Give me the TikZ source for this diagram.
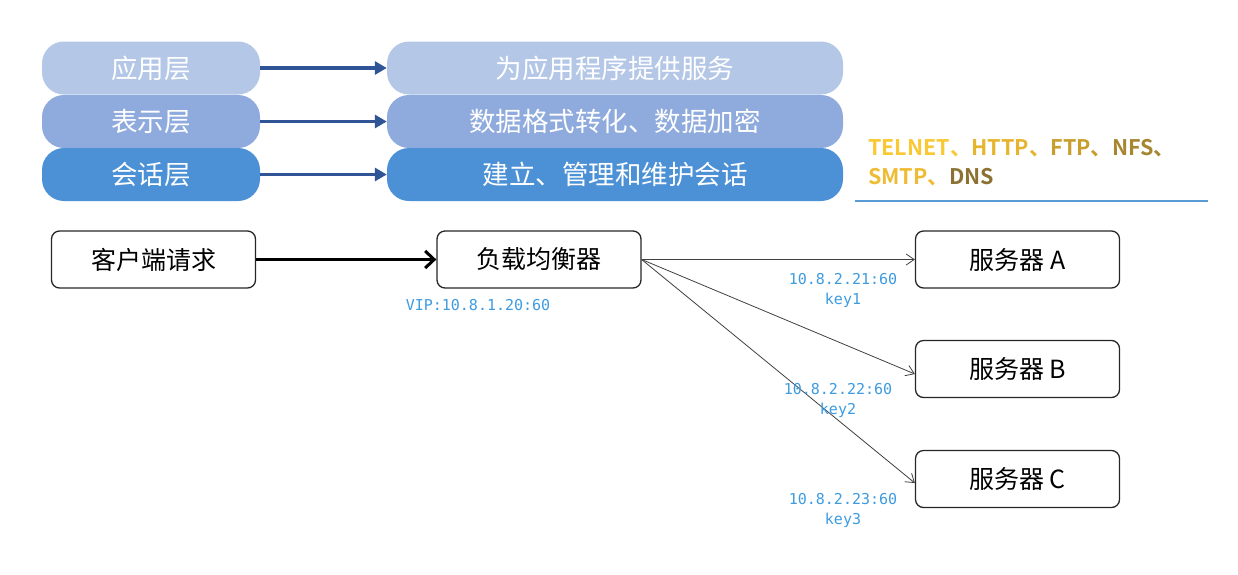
\documentclass[tikz,border=0pt]{standalone}
\usepackage{fontspec}
\setmainfont{Noto Sans CJK SC}
\newfontfamily\cjkb{Noto Sans CJK SC Bold}
\newfontfamily\monof{DejaVu Sans Mono}
\usetikzlibrary{arrows.meta,positioning}
\definecolor{layA}{RGB}{180,199,231}
\definecolor{layB}{RGB}{143,170,220}
\definecolor{layC}{RGB}{76,145,214}
\definecolor{arrblue}{RGB}{47,85,151}
\definecolor{lblblue}{RGB}{61,155,224}
\definecolor{lineblue}{RGB}{91,155,213}
\definecolor{gA}{RGB}{250,200,50}
\definecolor{gB}{RGB}{230,180,45}
\definecolor{gC}{RGB}{200,158,46}
\definecolor{gD}{RGB}{166,134,48}
\definecolor{gE}{RGB}{238,188,52}
\definecolor{gF}{RGB}{140,114,50}
\tikzset{
  layer/.style={rounded corners=22pt, minimum height=53pt, text=white, font=\fontsize{26.5}{28}\selectfont, inner sep=0pt},
  lay1/.style={layer, fill=layA},
  lay2/.style={layer, fill=layB},
  lay3/.style={layer, fill=layC},
  blarrow/.style={draw=arrblue, line width=3.6pt, -{Triangle[length=12pt,width=13pt]}},
  flowbox/.style={draw=black!85, line width=1.3pt, rounded corners=8pt, minimum width=204pt, minimum height=57pt, font=\fontsize{25}{28}\selectfont, inner sep=0pt},
  thickarrow/.style={draw=black, line width=3.2pt, -{Straight Barb[length=9pt,width=17pt,line width=3pt]}},
  thinarrow/.style={draw=black!75, line width=0.8pt, -{Straight Barb[length=8pt,width=11pt]}},
  iplabel/.style={text=lblblue, font=\monof\fontsize{15}{20}\selectfont, align=center, inner sep=0pt},
  proto/.style={font=\cjkb\fontsize{21.5}{30}\selectfont, align=left, inner sep=0pt, anchor=west}
}
\begin{document}
\begin{tikzpicture}[x=1pt,y=-1pt]
\useasboundingbox (0,0) rectangle (1238,574);
% layers
\node[lay1, minimum width=218pt] (L1) at (151,68) {应用层};
\node[lay2, minimum width=218pt] (L2) at (151,121.5) {表示层};
\node[lay3, minimum width=218pt] (L3) at (151,174.5) {会话层};
\node[lay1, minimum width=456pt] (R1) at (615,68) {为应用程序提供服务};
\node[lay2, minimum width=456pt] (R2) at (615,121.5) {数据格式转化、数据加密};
\node[lay3, minimum width=456pt] (R3) at (615,174.5) {建立、管理和维护会话};
\draw[blarrow] (L1.east) -- (R1.west);
\draw[blarrow] (L2.east) -- (R2.west);
\draw[blarrow] (L3.east) -- (R3.west);
% protocols
\node[proto] (P1) at (868,148) {\textcolor{gA}{TELNET、}\textcolor{gB}{HTTP、}\textcolor{gC}{FTP、}\textcolor{gD}{NFS、}};
\node[proto] (P2) at (868,177) {\textcolor{gE}{SMTP、}\textcolor{gF}{DNS}};
\coordinate (UL1) at (855,201);
\coordinate (UL2) at (1208,201);
\draw[lineblue, line width=1.2pt] (UL1) -- (UL2);
% flow
\node[flowbox] (C) at (153.5,259.5) {客户端请求};
\node[flowbox] (LB) at (539,259.5) {负载均衡器};
\node[flowbox] (SA) at (1017.5,259.5) {服务器 A};
\node[flowbox] (SB) at (1017.5,369) {服务器 B};
\node[flowbox] (SC) at (1017.5,479) {服务器 C};
\draw[thickarrow] (C.east) -- (LB.west);
\draw[thinarrow] (LB.east) -- (SA.west);
\draw[thinarrow] (LB.east) -- ([yshift=-5pt]SB.west);
\draw[thinarrow] (LB.east) -- ([yshift=-4pt]SC.west);
\node[iplabel] (VIP) at (478,305) {VIP:10.8.1.20:60};
\node[iplabel] (K1) at (843,290) {10.8.2.21:60\\key1};
\node[iplabel] (K2) at (838,400) {10.8.2.22:60\\key2};
\node[iplabel] (K3) at (843,510) {10.8.2.23:60\\key3};
\end{tikzpicture}
\end{document}
